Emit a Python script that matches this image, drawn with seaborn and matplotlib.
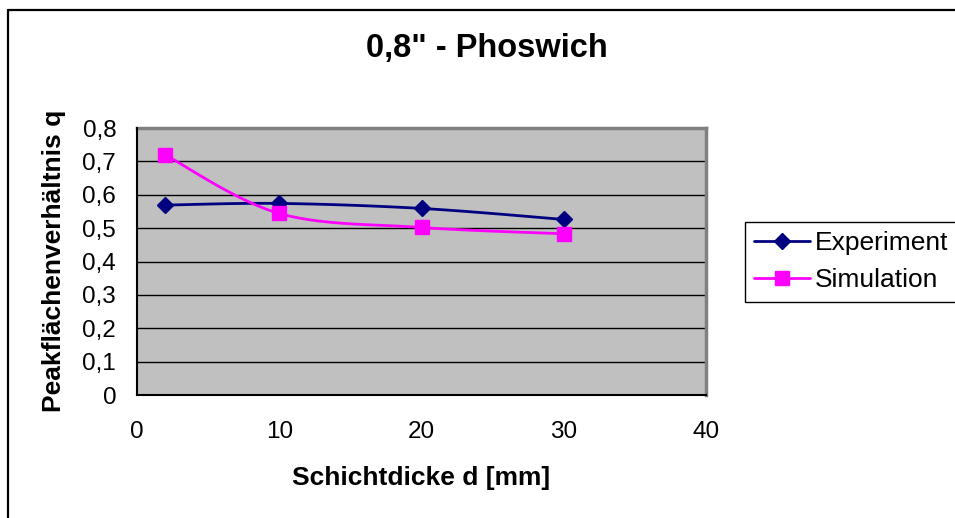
import numpy as np
import pandas as pd
import matplotlib
matplotlib.use("Agg")
import matplotlib.pyplot as plt
from matplotlib.lines import Line2D
from matplotlib.ticker import FuncFormatter
import seaborn as sns

# ---- data ----
thickness = [2, 10, 20, 30]
experiment = [0.569, 0.574, 0.559, 0.526]
simulation = [0.719, 0.544, 0.502, 0.483]
series_names = ["Experiment", "Simulation"]
x_ticks = [0, 10, 20, 30, 40]
y_ticks = [0, 0.1, 0.2, 0.3, 0.4, 0.5, 0.6, 0.7, 0.8]
title = "0,8\" - Phoswich"
xlabel = "Schichtdicke d [mm]"
ylabel = "Peakflächenverhältnis q"

colors = {"Experiment": "#000080", "Simulation": "#FF00FF"}
markers = {"Experiment": "D", "Simulation": "s"}
msize = {"Experiment": 8, "Simulation": 10.5}


def smooth(xs, ys, n=40):
    """Excel-like smoothing (Catmull-Rom via cubic Bezier) through the points."""
    P = np.column_stack([xs, ys]).astype(float)
    ext = np.vstack([P[0], P, P[-1]])
    out = []
    t = np.linspace(0, 1, n)[:, None]
    for i in range(len(P) - 1):
        p0, p3 = ext[i + 1], ext[i + 2]
        p1 = p0 + (ext[i + 2] - ext[i]) / 6.0
        p2 = p3 - (ext[i + 3] - ext[i + 1]) / 6.0
        seg = ((1 - t) ** 3) * p0 + 3 * ((1 - t) ** 2) * t * p1 + 3 * (1 - t) * t ** 2 * p2 + t ** 3 * p3
        out.append(seg if i == 0 else seg[1:])
    S = np.vstack(out)
    return S[:, 0], S[:, 1]


sns.set_theme(style="white")
plt.rcParams["font.family"] = ["Liberation Sans", "DejaVu Sans"]
plt.rcParams["text.color"] = "black"

fig = plt.figure(figsize=(9.55, 5.18), dpi=100)
fig.patch.set_facecolor("white")
ax = fig.add_axes([137 / 955, 1 - 395 / 518, 569 / 955, 267 / 518])
ax.set_facecolor("#C0C0C0")

rows = []
pts = []
for name, vals in zip(series_names, [experiment, simulation]):
    sx, sy = smooth(thickness, vals)
    for a, b in zip(sx, sy):
        rows.append({"d": a, "q": b, "series": name})
    for a, b in zip(thickness, vals):
        pts.append({"d": a, "q": b, "series": name})
curve = pd.DataFrame(rows)
points = pd.DataFrame(pts)

for name in series_names:
    sns.lineplot(data=curve[curve.series == name], x="d", y="q", ax=ax,
                 color=colors[name], lw=2, sort=False, estimator=None, zorder=3)
    sub = points[points.series == name]
    ax.plot(sub["d"], sub["q"], linestyle="none", marker=markers[name],
            ms=msize[name], color=colors[name], mec=colors[name], zorder=4)

ax.set_xlim(0, 40)
ax.set_ylim(0, 0.8)
ax.set_xticks(x_ticks)
ax.set_yticks(y_ticks)
ax.yaxis.set_major_formatter(FuncFormatter(lambda v, p: ("%g" % round(v, 2)).replace(".", ",")))
ax.xaxis.set_major_formatter(FuncFormatter(lambda v, p: "%g" % v))
ax.tick_params(axis="both", which="major", direction="out", length=7, width=1,
               color="black", labelsize=17.5, labelcolor="black")
ax.tick_params(axis="y", pad=8)
ax.tick_params(axis="x", pad=12)
ax.yaxis.grid(True, color="black", lw=1)
ax.xaxis.grid(False)
ax.set_axisbelow(True)
for s in ["top", "right"]:
    ax.spines[s].set_color("#808080")
    ax.spines[s].set_linewidth(2.5)
for s in ["left", "bottom"]:
    ax.spines[s].set_color("black")
    ax.spines[s].set_linewidth(1.5)
    ax.spines[s].set_zorder(5)

ax.set_xlabel(xlabel, fontsize=19, fontweight="bold", color="black")
ax.set_ylabel(ylabel, fontsize=19, fontweight="bold", color="black")
ax.xaxis.label.set_va("center")
ax.xaxis.set_label_coords(0.5, -0.311)
ax.yaxis.label.set_va("center")
ax.yaxis.label.set_ha("center")
ax.yaxis.set_label_coords(-0.146, 0.502)

fig.text(487 / 955, 1 - 48 / 518, title, ha="center", va="center",
         fontsize=23.5, fontweight="bold", color="black")

handles = [Line2D([0], [0], color=colors[n], lw=2, marker=markers[n],
                  ms=msize[n], mec=colors[n]) for n in series_names]
leg = fig.legend(handles, series_names, loc="upper left",
                 bbox_to_anchor=(745 / 955, 1 - 222 / 518), fontsize=19,
                 frameon=True, fancybox=False, shadow=False, framealpha=1,
                 edgecolor="black", handlelength=2.1, handletextpad=0.2,
                 borderpad=0.35, labelspacing=0.5, borderaxespad=0,
                 labelcolor="black")
leg.get_frame().set_linewidth(1)

# outer chart border (left and top visible)
fig.add_artist(Line2D([8 / 955, 8 / 955], [0, 1 - 10 / 518], transform=fig.transFigure,
                      color="black", lw=1.6))
fig.add_artist(Line2D([8 / 955, 1], [1 - 10 / 518, 1 - 10 / 518], transform=fig.transFigure,
                      color="black", lw=1.6))

fig.savefig("out.png", dpi=100)
